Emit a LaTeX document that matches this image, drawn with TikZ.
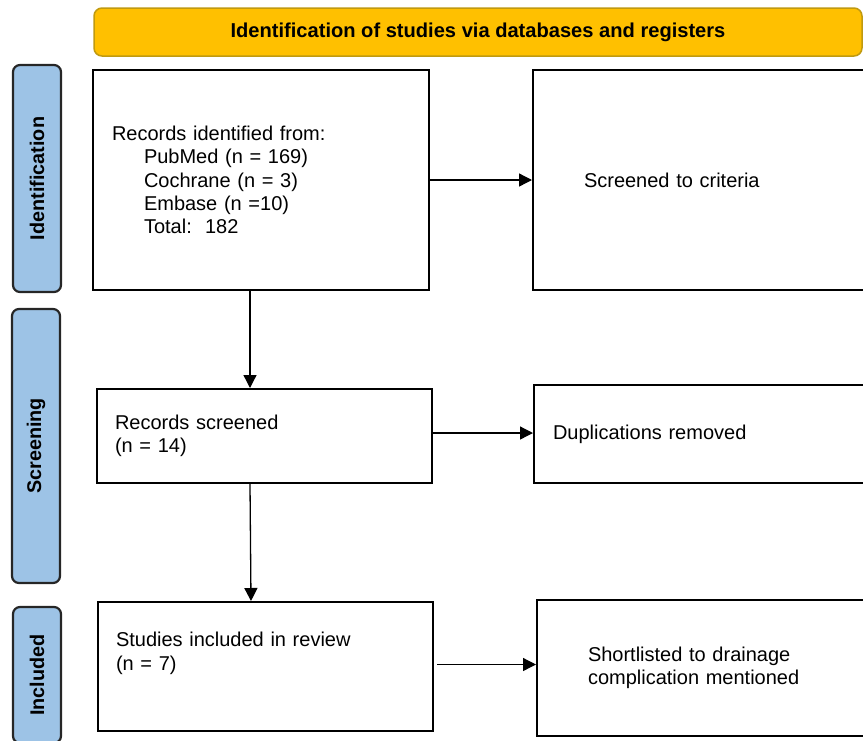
\documentclass[tikz,border=0pt]{standalone}
\usepackage{fontspec}
\setmainfont{Liberation Sans}
\usetikzlibrary{arrows.meta}
\definecolor{bandeau}{HTML}{FFC000}
\definecolor{bandeaubord}{HTML}{C09A10}
\definecolor{etapebleu}{HTML}{9DC3E6}
\tikzset{
  boite/.style={draw=black,line width=2pt,rectangle,anchor=north west,align=left,
    font=\fontsize{20}{23.3}\selectfont},
  etape/.style={draw=black!85,fill=etapebleu,line width=2.2pt,rounded corners=7pt,
    rotate=90,minimum height=48pt,font=\fontsize{19.8}{22}\selectfont\bfseries},
  fleche/.style={->,>={Triangle[length=13pt,width=13pt]},line width=1.3pt}
}
\begin{document}
\begin{tikzpicture}[x=1pt,y=-1pt] % 1 pixel = 1pt, l'axe y vers le bas
\useasboundingbox (0,0) rectangle (863,740);
\clip (0,0) rectangle (863,740);
% le bandeau du haut
\node[draw=bandeaubord,fill=bandeau,line width=1.5pt,rounded corners=8pt,
  minimum width=768pt,minimum height=48pt,font=\fontsize{20.1}{22}\selectfont\bfseries]
  (titre) at (478,32) {Identification of studies via databases and registers};
% les étapes à gauche
\node[etape,minimum width=227pt] (ident) at (37,178.5) {Identification};
\node[etape,minimum width=274pt] (screen) at (36,446) {Screening};
\node[etape,minimum width=136pt] (incl) at (37,675) {Included};
% les boîtes
\node[boite,minimum height=220pt,inner xsep=19pt,text width=298pt] (records) at (92,69)
  {Records identified from:\\
  \hspace*{32pt}PubMed (n = 169)\\
  \hspace*{32pt}Cochrane (n = 3)\\
  \hspace*{32pt}Embase (n =10)\\
  \hspace*{32pt}Total:\ \ 182};
\node[boite,minimum height=220pt,inner xsep=51pt,text width=250pt] (criteres) at (532,69)
  {Screened to criteria};
\node[boite,minimum height=94pt,inner xsep=18pt,text width=299pt] (screened) at (96,388)
  {Records screened\\(n = 14)};
\node[boite,minimum height=98pt,inner xsep=19pt,text width=312pt] (doublons) at (533,384)
  {Duplications removed};
\node[boite,minimum height=129pt,inner xsep=18pt,text width=299pt] (included) at (97,601)
  {Studies included in review\\(n = 7)\\ \strut};
\node[boite,minimum height=136pt,inner xsep=51pt,text width=250pt] (shortlist) at (536,599)
  {Shortlisted to drainage\\complication mentioned};
% les flèches
\draw[fleche] (records.east) -- (records.east -| criteres.west);
\draw[fleche] ([xshift=-11pt]records.south) -- ([xshift=-14.5pt]screened.north);
\draw[fleche] ([yshift=3pt]screened.east) -- ([yshift=3pt]screened.east -| doublons.west);
\draw[fleche] ([xshift=-14.5pt]screened.south) -- ([xshift=-14.5pt]included.north);
\draw[fleche] ([xshift=3pt,yshift=2pt]included.east) -- ([yshift=2pt]included.east -| shortlist.west);
\end{tikzpicture}
\end{document}
